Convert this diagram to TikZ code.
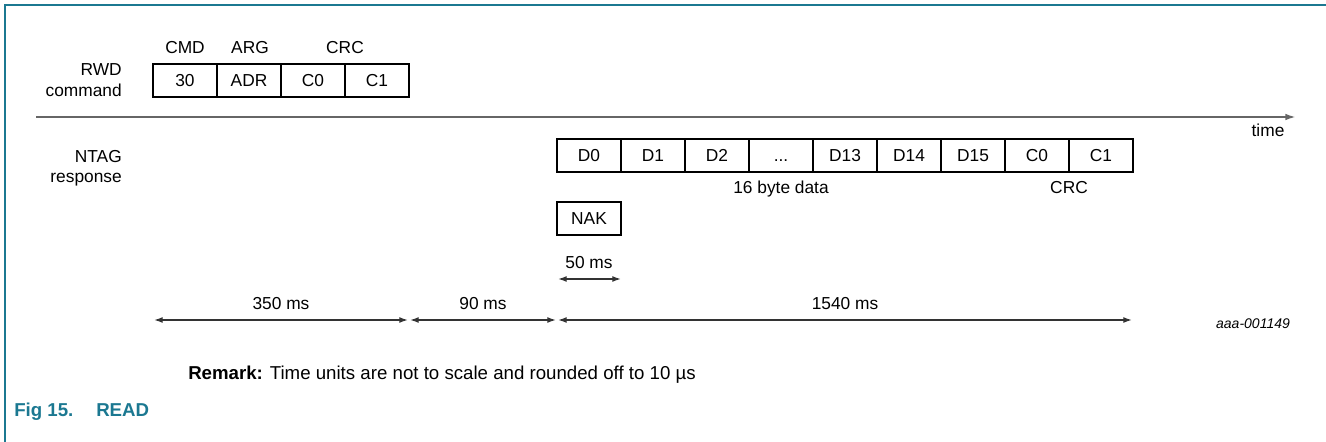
\documentclass[tikz,border=0pt]{standalone}
\usepackage{fontspec}
\setmainfont{Liberation Sans}
\usetikzlibrary{arrows.meta}
\definecolor{nxpteal}{HTML}{1B7891}
\definecolor{axisgray}{HTML}{666666}
\begin{document}
\begin{tikzpicture}[x=0.75pt,y=-0.75pt,
  every node/.style={font=\fontsize{13}{15}\selectfont, inner sep=0pt, text height=9.3pt, text depth=0pt},
  cell/.style={draw=black, line width=1.4pt, minimum width=48pt, minimum height=24.5pt},
  rlbl/.style={anchor=east},
  figcap/.style={anchor=west, text=nxpteal, font=\fontsize{14}{16}\selectfont\bfseries, text height=10pt},
  dim/.style={draw=black!80, line width=1pt, {Latex[length=6.5pt,width=4.5pt]}-{Latex[length=6.5pt,width=4.5pt]}, shorten <=0.8pt, shorten >=0.8pt},
  ]
\useasboundingbox (0,0) rectangle (1326,442);
% frame
\draw[nxpteal, line width=1.5pt] (1326,5) -- (5,5) -- (5,442);

% RWD command
\node[rlbl] (rwd) at (122,69) {RWD};
\node[rlbl] (rwdc) at (122,90) {command};
\node[cell] (r1) at (185,80.5) {30};
\node[cell] (r2) at (249,80.5) {ADR};
\node[cell] (r3) at (313,80.5) {C0};
\node[cell] (r4) at (377,80.5) {C1};
\node (cmd) at (185,47) {CMD};
\node (arg) at (250,47) {ARG};
\node (crc1) at (345,47) {CRC};

% time axis
\coordinate (ax0) at (36,117);
\coordinate (ax1) at (1296,117);
\draw[axisgray, line width=1.5pt, -{Latex[length=8pt,width=5pt]}] (ax0) -- (ax1);
\node (time) at (1268,130) {time};

% NTAG response
\node[rlbl] (ntag) at (122,156) {NTAG};
\node[rlbl] (resp) at (122,176) {response};
\node[cell] (d1) at (589,155.5) {D0};
\node[cell] (d2) at (653,155.5) {D1};
\node[cell] (d3) at (717,155.5) {D2};
\node[cell] (d4) at (781,155.5) {...};
\node[cell] (d5) at (845,155.5) {D13};
\node[cell] (d6) at (909,155.5) {D14};
\node[cell] (d7) at (973,155.5) {D15};
\node[cell] (d8) at (1037,155.5) {C0};
\node[cell] (d9) at (1101,155.5) {C1};
\node (data) at (781,187) {16 byte data};
\node (crc2) at (1069,187) {CRC};
\node[cell] (nak) at (589,218.5) {NAK};

% 50 ms
\coordinate (n0) at (557,279);
\coordinate (n1) at (622,279);
\node (l50) at (589,262) {50 ms};
\draw[dim] (n0) -- (n1);

% bottom time spans
\coordinate (t0) at (153,320);
\coordinate (t1) at (409,320);
\coordinate (t2) at (557,320);
\coordinate (t3) at (1133,320);
\draw[dim] (t0) -- (t1);
\draw[dim] (t1) -- (t2);
\draw[dim] (t2) -- (t3);
\node (l350) at (281,303) {350 ms};
\node (l90) at (483,303) {90 ms};
\node (l1540) at (845,303) {1540 ms};
\node[font=\fontsize{10.5}{12}\selectfont\itshape, text height=7.5pt] (ref) at (1253,323) {aaa-001149};

% remark and caption
\node[anchor=west, font=\fontsize{14}{16}\selectfont, text height=10pt] (remark) at (188,373) {\textbf{Remark:} Time units are not to scale and rounded off to 10 \textmu s};
\node[figcap] (fig) at (14,410) {Fig 15.};
\node[figcap] (read) at (96,410) {READ};
\end{tikzpicture}
\end{document}
